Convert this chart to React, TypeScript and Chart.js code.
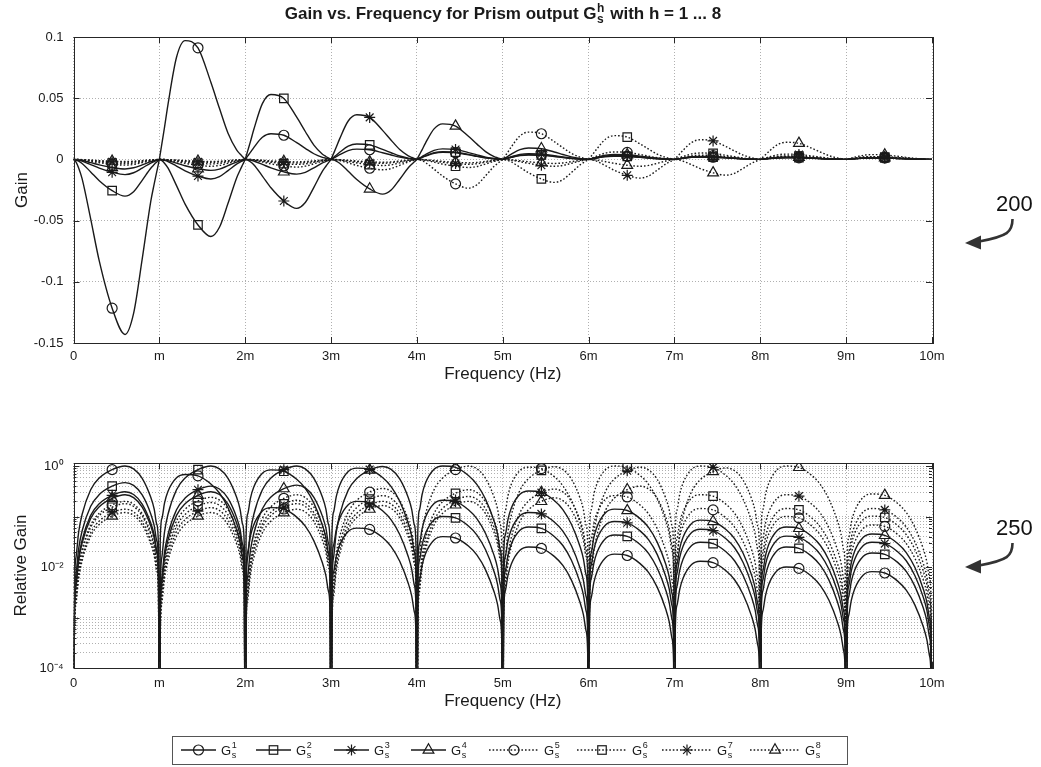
import React, { useEffect, useRef } from "react";
import { Chart, registerables } from "chart.js";

Chart.register(...registerables);

const FONT = "'Liberation Sans', Arial, Helvetica, sans-serif";
const INK = "#1a1a1a";
const GRID = "#b0b0b0";

// ---------- axis ticks ----------
const FREQ_TICKS = [0, 1, 2, 3, 4, 5, 6, 7, 8, 9, 10];
const FREQ_TICK_LABELS = ["0", "m", "2m", "3m", "4m", "5m", "6m", "7m", "8m", "9m", "10m"];
const GAIN_TICKS = [0.1, 0.05, 0, -0.05, -0.1, -0.15];
const GAIN_TICK_LABELS = ["0.1", "0.05", "0", "-0.05", "-0.1", "-0.15"];
const REL_DECADES = [-4, -3, -2, -1];
const REL_MANTISSAS = [1, 2, 3, 4, 5, 6, 7, 8, 9];
const REL_LABELLED = [1, 0.01, 0.0001];
const REL_TICK_LABELS = ["10\u2070", "10\u207B\u00B2", "10\u207B\u2074"];

// ---------- lobe profile (position inside each 1m lobe, normalised shape) ----------
const LOBE_T = [0, 0.01, 0.03, 0.06, 0.1, 0.2, 0.3, 0.45, 0.6, 0.7, 0.8, 0.9, 0.94, 0.97, 0.99];
const SHAPE_LATE = [0, 0.003, 0.016, 0.049, 0.11, 0.34, 0.58, 0.85, 1.0, 0.88, 0.57, 0.24, 0.14, 0.07, 0.024];
const SHAPE_EARLY = [0, 0.045, 0.135, 0.27, 0.46, 0.86, 1.0, 0.94, 0.65, 0.43, 0.22, 0.08, 0.045, 0.022, 0.007];
const MARKER_INDEX = 7; // t = 0.45 -> markers at 0.45m, 1.45m, ...
const REL_FLOOR = 1e-7;

// ---------- series: signed gain extreme per lobe (top) and relative gain peak per lobe (bottom) ----------
const G1_GAIN = [-0.143, 0.097, 0.021, 0.0084, 0.0057, 0.0036, 0.0026, 0.0019, 0.0014, 0.0012];
const G1_REL = [1.0, 0.68, 0.15, 0.059, 0.04, 0.025, 0.018, 0.013, 0.01, 0.0081];
const G2_GAIN = [-0.03, -0.063, 0.053, 0.0126, 0.0063, 0.0039, 0.0027, 0.002, 0.0016, 0.0012];
const G2_REL = [0.47, 1.0, 0.84, 0.2, 0.1, 0.062, 0.043, 0.031, 0.025, 0.019];
const G3_GAIN = [-0.0124, -0.016, -0.04, 0.0365, 0.0086, 0.0047, 0.0032, 0.0022, 0.0016, 0.0012];
const G3_REL = [0.31, 0.4, 1.0, 0.91, 0.21, 0.12, 0.08, 0.056, 0.041, 0.031];
const G4_GAIN = [-0.0078, -0.009, -0.012, -0.0284, 0.029, 0.0093, 0.0041, 0.0025, 0.0018, 0.0013];
const G4_REL = [0.27, 0.31, 0.42, 0.98, 1.0, 0.32, 0.14, 0.085, 0.062, 0.045];
const G5_GAIN = [-0.0047, -0.0056, -0.0063, -0.0085, -0.0235, 0.0223, 0.0061, 0.0034, 0.0024, 0.0016];
const G5_REL = [0.2, 0.24, 0.27, 0.36, 1.0, 0.95, 0.26, 0.144, 0.1, 0.068];
const G6_GAIN = [-0.0035, -0.0037, -0.0041, -0.005, -0.0066, -0.0188, 0.0194, 0.0052, 0.0028, 0.002];
const G6_REL = [0.18, 0.19, 0.21, 0.26, 0.34, 0.97, 1.0, 0.27, 0.144, 0.102];
const G7_GAIN = [-0.0023, -0.0024, -0.0029, -0.0032, -0.004, -0.0056, -0.0153, 0.0161, 0.0043, 0.0023];
const G7_REL = [0.14, 0.15, 0.18, 0.2, 0.25, 0.35, 0.95, 1.0, 0.27, 0.144];
const G8_GAIN = [-0.0017, -0.0017, -0.002, -0.0023, -0.0028, -0.0033, -0.0056, -0.0129, 0.014, 0.0039];
const G8_REL = [0.12, 0.12, 0.14, 0.165, 0.2, 0.235, 0.4, 0.92, 1.0, 0.28];

const SERIES_SUPS = ["1", "2", "3", "4", "5", "6", "7", "8"];
const SERIES_GAIN = [G1_GAIN, G2_GAIN, G3_GAIN, G4_GAIN, G5_GAIN, G6_GAIN, G7_GAIN, G8_GAIN];
const SERIES_REL = [G1_REL, G2_REL, G3_REL, G4_REL, G5_REL, G6_REL, G7_REL, G8_REL];
const SERIES_MARKER = ["circle", "rect", "star", "triangle", "circle", "rect", "star", "triangle"];
const SERIES_DOTTED = [false, false, false, false, true, true, true, true];

const MARKER_R: Record<string, number> = { circle: 5, rect: 6, star: 5.5, triangle: 6.2 };

function buildPoints(gain: number[], values: number[], log: boolean) {
  const pts: { x: number; y: number }[] = [];
  values.forEach((v, k) => {
    const shape = gain[k] < 0 ? SHAPE_LATE : SHAPE_EARLY;
    LOBE_T.forEach((t, j) => {
      const y = v * shape[j];
      pts.push({ x: k + t, y: log ? Math.max(Math.abs(y), REL_FLOOR) : y });
    });
  });
  pts.push({ x: values.length, y: log ? REL_FLOOR : 0 });
  return pts;
}

function makeDatasets(log: boolean) {
  const nMarkers = LOBE_T.length * 10;
  return SERIES_SUPS.map((sup, i) => {
    const marker = SERIES_MARKER[i];
    const r = MARKER_R[marker];
    return {
      label: "G" + sup,
      data: buildPoints(SERIES_GAIN[i], log ? SERIES_REL[i] : SERIES_GAIN[i], log),
      borderColor: INK,
      borderWidth: 1.4,
      borderDash: SERIES_DOTTED[i] ? [1.6, 2] : [],
      cubicInterpolationMode: "monotone",
      pointStyle: marker,
      pointRadius: (c: any) =>
        c.dataIndex % LOBE_T.length === MARKER_INDEX && c.dataIndex < nMarkers ? r : 0,
      pointHoverRadius: 0,
      pointBorderColor: INK,
      pointBackgroundColor: "rgba(0,0,0,0)",
      pointBorderWidth: 1.2,
      fill: false,
      order: 8 - i,
    };
  });
}

const framePlugin = {
  id: "frame",
  afterDraw(chart: any, _args: any, opts: any) {
    const { ctx, chartArea: a } = chart;
    const xs = chart.scales.x;
    const ys = chart.scales.y;
    ctx.save();
    ctx.setLineDash([]);
    ctx.strokeStyle = "#262626";
    ctx.lineWidth = 1;
    ctx.beginPath();
    for (const t of xs.ticks) {
      const px = Math.round(xs.getPixelForValue(t.value)) + 0.5;
      ctx.moveTo(px, a.bottom);
      ctx.lineTo(px, a.bottom - 6);
      ctx.moveTo(px, a.top);
      ctx.lineTo(px, a.top + 6);
    }
    for (const t of ys.ticks) {
      const v = t.value;
      const major = !opts.log || Math.abs(Math.log10(v) - Math.round(Math.log10(v))) < 1e-6;
      const len = major ? 6 : 3;
      const py = Math.round(ys.getPixelForValue(v)) + 0.5;
      ctx.moveTo(a.left, py);
      ctx.lineTo(a.left + len, py);
      ctx.moveTo(a.right, py);
      ctx.lineTo(a.right - len, py);
    }
    ctx.stroke();
    ctx.strokeRect(Math.round(a.left) + 0.5, Math.round(a.top) + 0.5, Math.round(a.right - a.left), Math.round(a.bottom - a.top));
    ctx.restore();
  },
};

function xScale(axisHeight: number, tickPad: number) {
  return {
    type: "linear",
    min: 0,
    max: 10,
    afterFit: (s: any) => {
      s.height = axisHeight;
    },
    afterBuildTicks: (s: any) => {
      s.ticks = FREQ_TICKS.map((v) => ({ value: v }));
    },
    ticks: {
      autoSkip: false,
      maxRotation: 0,
      minRotation: 0,
      padding: tickPad,
      color: INK,
      font: { family: FONT, size: 13 },
      callback: (_v: any, i: number) => FREQ_TICK_LABELS[i],
    },
    grid: { color: GRID, lineWidth: 1, drawTicks: false },
    border: { display: false, dash: [1, 2] },
    title: {
      display: true,
      text: "Frequency (Hz)",
      color: INK,
      font: { family: FONT, size: 17 },
      padding: { top: 0, bottom: 3.8 },
    },
  };
}

function topConfig(): any {
  return {
    type: "line",
    data: { datasets: makeDatasets(false) },
    options: {
      animation: false,
      responsive: false,
      events: [],
      layout: { padding: { left: 0, right: 109, top: 37, bottom: 12 } },
      plugins: { legend: { display: false }, tooltip: { enabled: false }, frame: { log: false } },
      scales: {
        x: xScale(45, 6),
        y: {
          type: "linear",
          min: -0.15,
          max: 0.1,
          afterFit: (s: any) => {
            s.width = 73.5;
          },
          afterBuildTicks: (s: any) => {
            s.ticks = GAIN_TICKS.map((v) => ({ value: v }));
          },
          ticks: {
            autoSkip: false,
            padding: 10,
            color: INK,
            font: { family: FONT, size: 13 },
            callback: (_v: any, i: number) => GAIN_TICK_LABELS[i],
          },
          grid: { color: GRID, lineWidth: 1, drawTicks: false },
          border: { display: false, dash: [1, 2] },
          title: {
            display: true,
            text: "Gain",
            color: INK,
            font: { family: FONT, size: 17 },
            padding: { top: 11.8, bottom: 0 },
          },
        },
      },
    },
    plugins: [framePlugin],
  };
}

function bottomConfig(): any {
  const relTicks: number[] = [];
  REL_DECADES.forEach((e) => REL_MANTISSAS.forEach((m) => relTicks.push(m * Math.pow(10, e))));
  relTicks.push(1);
  return {
    type: "line",
    data: { datasets: makeDatasets(true) },
    options: {
      animation: false,
      responsive: false,
      events: [],
      layout: { padding: { left: 0, right: 109, top: 43, bottom: 5 } },
      plugins: { legend: { display: false }, tooltip: { enabled: false }, frame: { log: true } },
      scales: {
        x: xScale(47, 8),
        y: {
          type: "logarithmic",
          min: 0.0001,
          max: 1.15,
          afterFit: (s: any) => {
            s.width = 73.5;
          },
          afterBuildTicks: (s: any) => {
            s.ticks = relTicks.map((v) => ({ value: v }));
          },
          ticks: {
            autoSkip: false,
            padding: 10,
            color: INK,
            font: { family: FONT, size: 13 },
            callback: (v: any) => {
              const i = REL_LABELLED.findIndex((m) => Math.abs(m - v) / m < 1e-6);
              return i >= 0 ? REL_TICK_LABELS[i] : "";
            },
          },
          grid: { color: GRID, lineWidth: 1, drawTicks: false },
          border: { display: false, dash: [1, 2] },
          title: {
            display: true,
            text: "Relative Gain",
            color: INK,
            font: { family: FONT, size: 17 },
            padding: { top: 10.8, bottom: 0 },
          },
        },
      },
    },
    plugins: [framePlugin],
  };
}

// superscript over subscript, anchored on the text baseline
function Scripts({ sup, sub, size, width, raise, drop, bold }: any) {
  const base = 0.8465 * size;
  const common: any = {
    position: "absolute",
    left: 0.5,
    fontSize: size,
    lineHeight: `${size}px`,
    fontWeight: bold ? "bold" : "normal",
    whiteSpace: "nowrap",
  };
  return (
    <span style={{ display: "inline-block", position: "relative", width, height: 0 }}>
      <span style={{ ...common, top: -raise - base }}>{sup}</span>
      <span style={{ ...common, top: drop - base }}>{sub}</span>
    </span>
  );
}

function LegendMarker({ kind, cx, cy }: any) {
  const sw = 1.2;
  if (kind === "circle") return <circle cx={cx} cy={cy} r={5} fill="none" stroke={INK} strokeWidth={sw} />;
  if (kind === "rect")
    return <rect x={cx - 4.25} y={cy - 4.25} width={8.5} height={8.5} fill="none" stroke={INK} strokeWidth={sw} />;
  if (kind === "star") {
    const r = 5.5;
    const d = r * 0.7071;
    return (
      <g stroke={INK} strokeWidth={sw}>
        <line x1={cx - r} y1={cy} x2={cx + r} y2={cy} />
        <line x1={cx} y1={cy - r} x2={cx} y2={cy + r} />
        <line x1={cx - d} y1={cy - d} x2={cx + d} y2={cy + d} />
        <line x1={cx - d} y1={cy + d} x2={cx + d} y2={cy - d} />
      </g>
    );
  }
  const r = 6.2;
  const pts = `${cx},${cy - r} ${cx + 0.866 * r},${cy + 0.5 * r} ${cx - 0.866 * r},${cy + 0.5 * r}`;
  return <polygon points={pts} fill="none" stroke={INK} strokeWidth={sw} />;
}

const LEGEND_BOX = { left: 172, top: 736, width: 675, height: 28 };
const LEGEND_LINES = [
  [181, 216],
  [256, 291],
  [334, 369],
  [411, 446],
  [489, 539],
  [577, 627],
  [662, 712],
  [750, 800],
];

export default function App() {
  const topRef = useRef<HTMLCanvasElement>(null);
  const botRef = useRef<HTMLCanvasElement>(null);

  useEffect(() => {
    Chart.defaults.font.family = FONT;
    const c1 = new Chart(topRef.current as any, topConfig());
    const c2 = new Chart(botRef.current as any, bottomConfig());
    return () => {
      c1.destroy();
      c2.destroy();
    };
  }, []);

  const legendCy = LEGEND_BOX.top + LEGEND_BOX.height / 2;

  return (
    <div
      style={{
        position: "absolute",
        left: 0,
        top: 0,
        width: 1041,
        height: 767,
        background: "#fff",
        overflow: "hidden",
        fontFamily: FONT,
        color: INK,
      }}
    >
      <canvas ref={topRef} width={1041} height={400} style={{ position: "absolute", left: 0, top: 0, width: 1041, height: 400 }} />
      <canvas ref={botRef} width={1041} height={300} style={{ position: "absolute", left: 0, top: 420, width: 1041, height: 300 }} />

      {/* title */}
      <div
        style={{
          position: "absolute",
          left: 0,
          top: 4,
          width: 1006,
          textAlign: "center",
          fontWeight: "bold",
          fontSize: 17,
          lineHeight: "20px",
          whiteSpace: "nowrap",
        }}
      >
        Gain vs. Frequency for Prism output G
        <Scripts sup="h" sub="s" size={12} width={9} raise={7} drop={4} bold />
        {" with h = 1 ... 8"}
      </div>

      {/* legend + annotation arrows */}
      <svg width={1041} height={767} style={{ position: "absolute", left: 0, top: 0, pointerEvents: "none" }}>
        <rect
          x={LEGEND_BOX.left + 0.5}
          y={LEGEND_BOX.top + 0.5}
          width={LEGEND_BOX.width}
          height={LEGEND_BOX.height}
          fill="#fff"
          stroke="#555"
          strokeWidth={1}
        />
        {LEGEND_LINES.map(([a, b], i) => (
          <g key={i}>
            <line
              x1={a}
              y1={legendCy}
              x2={b}
              y2={legendCy}
              stroke={INK}
              strokeWidth={1.5}
              strokeDasharray={SERIES_DOTTED[i] ? "1.6 2" : undefined}
            />
            <LegendMarker kind={SERIES_MARKER[i]} cx={(a + b) / 2} cy={legendCy} />
          </g>
        ))}
        <path d="M 1012.5 219 C 1012.5 232, 1008 236, 979 241.5" fill="none" stroke="#333" strokeWidth={2.6} />
        <polygon points="965,243 981,235.5 981,249.5" fill="#333" />
        <path d="M 1012.5 543 C 1012.5 556, 1008 560, 979 565.5" fill="none" stroke="#333" strokeWidth={2.6} />
        <polygon points="965,567 981,559.5 981,573.5" fill="#333" />
      </svg>

      {LEGEND_LINES.map(([, b], i) => (
        <div
          key={i}
          style={{
            position: "absolute",
            left: b + 5,
            top: legendCy + 5 - 0.8465 * 13,
            fontSize: 13,
            lineHeight: "13px",
            whiteSpace: "nowrap",
          }}
        >
          G
          <Scripts sup={SERIES_SUPS[i]} sub="s" size={9} width={7} raise={6} drop={4} />
        </div>
      ))}

      <div style={{ position: "absolute", left: 996, top: 212 - 0.8465 * 22, fontSize: 22, lineHeight: "22px", color: "#111" }}>
        200
      </div>
      <div style={{ position: "absolute", left: 996, top: 536 - 0.8465 * 22, fontSize: 22, lineHeight: "22px", color: "#111" }}>
        250
      </div>
    </div>
  );
}
